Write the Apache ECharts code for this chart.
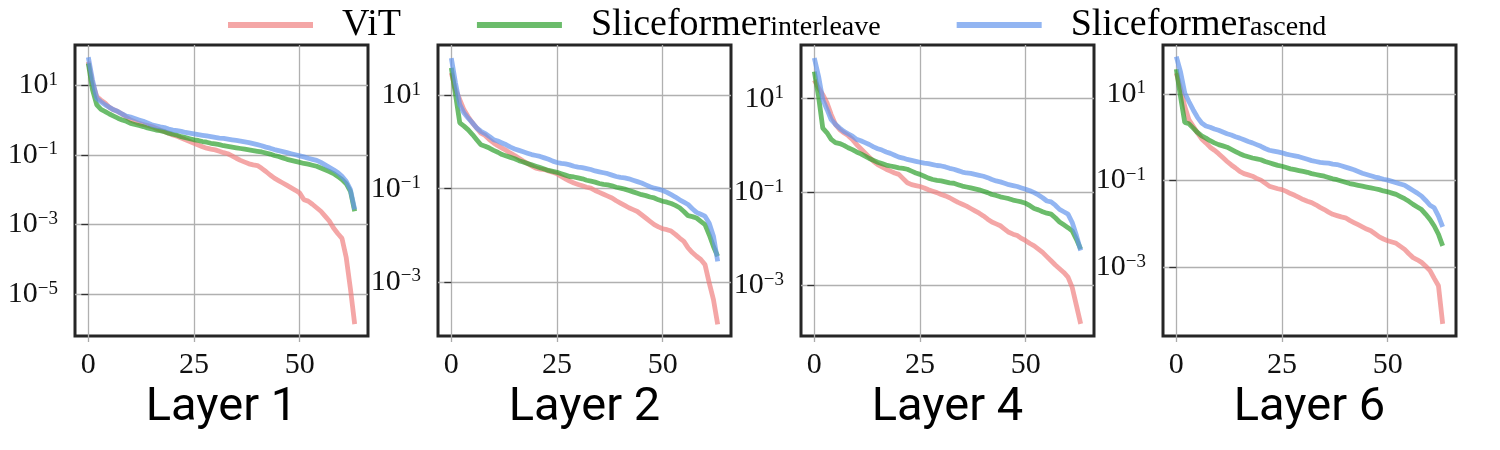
<!DOCTYPE html>
<html lang="en">
<head>
<meta charset="UTF-8">
<title>Singular value spectra per layer</title>
<script src="https://cdn.jsdelivr.net/npm/echarts@6.0.0/dist/echarts.min.js"></script>
<style>
    html, body { margin: 0; padding: 0; background: #fff; }
    #main { width: 1500px; height: 450px; }
</style>
</head>
<body>
<div id="main"></div>
<script>
// panel titles and ticks
var layers = ['Layer 1', 'Layer 2', 'Layer 4', 'Layer 6'];
var seriesNames = ['ViT', 'Sliceformer_interleave', 'Sliceformer_ascend'];
var xTicks = [0, 25, 50];
var yTicks = [1e-5, 1e-3, 1e-1, 1e1];
// log10 of the y axis ends, per panel
var yRangeExp = [[-6.2, 2.15], [-4.16, 2.08], [-4.08, 2.15], [-4.59, 2.13]];

// values, stored as log10 (index 0..63)
var vitExp1 = [
    1.67, 1.05, 0.67, 0.57, 0.48, 0.36, 0.29, 0.24,
    0.17, 0.08, 0.00, -0.05, -0.10, -0.13, -0.16, -0.19,
    -0.24, -0.29, -0.33, -0.38, -0.43, -0.47, -0.52, -0.57,
    -0.62, -0.67, -0.72, -0.77, -0.81, -0.84, -0.86, -0.90,
    -0.94, -0.97, -1.03, -1.10, -1.16, -1.21, -1.26, -1.29,
    -1.31, -1.39, -1.48, -1.58, -1.67, -1.74, -1.81, -1.88,
    -1.95, -2.02, -2.10, -2.29, -2.33, -2.42, -2.52, -2.62,
    -2.76, -2.90, -3.10, -3.26, -3.40, -3.95, -4.85, -5.86];
var interleaveExp1 = [
    1.62, 0.86, 0.43, 0.30, 0.24, 0.17, 0.11, 0.05,
    0.00, -0.04, -0.10, -0.13, -0.16, -0.19, -0.23, -0.26,
    -0.29, -0.31, -0.34, -0.38, -0.41, -0.44, -0.48, -0.51,
    -0.54, -0.57, -0.59, -0.62, -0.64, -0.67, -0.69, -0.71,
    -0.74, -0.76, -0.78, -0.80, -0.82, -0.84, -0.86, -0.88,
    -0.90, -0.92, -0.95, -0.98, -1.02, -1.05, -1.09, -1.13,
    -1.16, -1.19, -1.22, -1.25, -1.27, -1.30, -1.33, -1.38,
    -1.43, -1.48, -1.54, -1.62, -1.71, -1.83, -2.05, -2.62];
var ascendExp1 = [
    1.80, 1.14, 0.62, 0.52, 0.43, 0.36, 0.29, 0.24,
    0.17, 0.11, 0.08, 0.04, 0.00, -0.04, -0.09, -0.14,
    -0.17, -0.20, -0.22, -0.26, -0.29, -0.31, -0.33, -0.36,
    -0.38, -0.40, -0.42, -0.44, -0.46, -0.48, -0.50, -0.52,
    -0.53, -0.55, -0.57, -0.59, -0.61, -0.63, -0.65, -0.68,
    -0.71, -0.74, -0.78, -0.81, -0.85, -0.88, -0.91, -0.94,
    -0.97, -1.00, -1.03, -1.06, -1.10, -1.13, -1.16, -1.22,
    -1.29, -1.36, -1.43, -1.51, -1.62, -1.76, -2.00, -2.57];

var vitExp2 = [
    1.48, 1.12, 0.91, 0.69, 0.54, 0.41, 0.30, 0.19,
    0.14, 0.05, -0.02, -0.08, -0.13, -0.18, -0.24, -0.29,
    -0.35, -0.41, -0.46, -0.51, -0.56, -0.58, -0.59, -0.62,
    -0.65, -0.68, -0.74, -0.79, -0.84, -0.88, -0.91, -0.94,
    -0.97, -0.99, -1.04, -1.08, -1.12, -1.16, -1.20, -1.26,
    -1.31, -1.36, -1.41, -1.45, -1.49, -1.56, -1.63, -1.70,
    -1.77, -1.82, -1.86, -1.88, -1.91, -1.98, -2.06, -2.13,
    -2.27, -2.37, -2.45, -2.52, -2.63, -3.02, -3.38, -3.91];
var interleaveExp2 = [
    1.59, 1.01, 0.41, 0.34, 0.26, 0.16, 0.05, -0.06,
    -0.09, -0.13, -0.18, -0.22, -0.27, -0.30, -0.33, -0.36,
    -0.40, -0.43, -0.46, -0.49, -0.52, -0.55, -0.58, -0.61,
    -0.63, -0.65, -0.68, -0.71, -0.74, -0.75, -0.77, -0.79,
    -0.82, -0.84, -0.86, -0.89, -0.91, -0.92, -0.94, -0.97,
    -0.99, -1.01, -1.04, -1.07, -1.10, -1.13, -1.15, -1.18,
    -1.20, -1.24, -1.27, -1.29, -1.32, -1.36, -1.41, -1.49,
    -1.58, -1.60, -1.63, -1.70, -1.77, -1.99, -2.24, -2.45];
var ascendExp2 = [
    1.80, 1.26, 0.80, 0.62, 0.51, 0.41, 0.30, 0.23,
    0.18, 0.12, 0.05, 0.02, -0.02, -0.06, -0.11, -0.15,
    -0.18, -0.21, -0.24, -0.27, -0.29, -0.31, -0.34, -0.37,
    -0.41, -0.44, -0.46, -0.47, -0.49, -0.52, -0.54, -0.55,
    -0.57, -0.59, -0.62, -0.64, -0.66, -0.68, -0.71, -0.74,
    -0.76, -0.77, -0.79, -0.82, -0.85, -0.88, -0.92, -0.96,
    -0.99, -1.01, -1.04, -1.08, -1.13, -1.18, -1.24, -1.29,
    -1.34, -1.43, -1.51, -1.55, -1.59, -1.74, -2.02, -2.56];

var vitExp4 = [
    1.40, 1.23, 1.09, 0.91, 0.66, 0.45, 0.34, 0.27,
    0.21, 0.13, 0.02, -0.07, -0.16, -0.25, -0.34, -0.41,
    -0.46, -0.51, -0.55, -0.59, -0.62, -0.71, -0.80, -0.84,
    -0.86, -0.88, -0.91, -0.95, -0.98, -1.01, -1.05, -1.08,
    -1.12, -1.17, -1.22, -1.26, -1.30, -1.35, -1.40, -1.45,
    -1.51, -1.58, -1.64, -1.68, -1.72, -1.79, -1.86, -1.90,
    -1.93, -1.99, -2.04, -2.10, -2.15, -2.22, -2.29, -2.38,
    -2.47, -2.56, -2.64, -2.72, -2.82, -3.04, -3.43, -3.82];
var interleaveExp4 = [
    1.58, 1.05, 0.37, 0.27, 0.13, 0.06, 0.04, 0.00,
    -0.05, -0.09, -0.14, -0.18, -0.23, -0.28, -0.32, -0.36,
    -0.39, -0.42, -0.44, -0.46, -0.48, -0.49, -0.51, -0.55,
    -0.59, -0.62, -0.66, -0.70, -0.73, -0.75, -0.76, -0.78,
    -0.80, -0.81, -0.84, -0.87, -0.89, -0.91, -0.93, -0.95,
    -0.98, -1.01, -1.05, -1.07, -1.10, -1.12, -1.14, -1.17,
    -1.19, -1.21, -1.24, -1.29, -1.35, -1.38, -1.42, -1.45,
    -1.47, -1.55, -1.64, -1.70, -1.76, -1.83, -2.01, -2.22];
var ascendExp4 = [
    1.87, 1.48, 0.98, 0.77, 0.55, 0.45, 0.37, 0.30,
    0.25, 0.20, 0.13, 0.10, 0.06, 0.02, -0.03, -0.07,
    -0.10, -0.14, -0.17, -0.21, -0.25, -0.27, -0.30, -0.32,
    -0.34, -0.36, -0.38, -0.39, -0.41, -0.43, -0.44, -0.46,
    -0.49, -0.51, -0.54, -0.57, -0.59, -0.60, -0.62, -0.64,
    -0.66, -0.69, -0.73, -0.76, -0.78, -0.81, -0.84, -0.86,
    -0.88, -0.91, -0.94, -0.97, -1.01, -1.06, -1.12, -1.19,
    -1.21, -1.28, -1.37, -1.42, -1.47, -1.65, -1.93, -2.25];

var vitExp6 = [
    1.48, 1.13, 0.71, 0.40, 0.25, 0.10, -0.04, -0.13,
    -0.23, -0.30, -0.38, -0.47, -0.56, -0.64, -0.71, -0.79,
    -0.84, -0.87, -0.90, -0.95, -0.99, -1.06, -1.13, -1.16,
    -1.19, -1.21, -1.25, -1.30, -1.34, -1.39, -1.44, -1.48,
    -1.51, -1.56, -1.62, -1.67, -1.73, -1.78, -1.81, -1.84,
    -1.86, -1.92, -1.97, -2.02, -2.07, -2.12, -2.16, -2.23,
    -2.30, -2.35, -2.39, -2.42, -2.45, -2.52, -2.59, -2.69,
    -2.78, -2.83, -2.89, -2.98, -3.08, -3.26, -3.43, -4.31];
var interleaveExp6 = [
    1.57, 0.94, 0.34, 0.31, 0.21, 0.11, 0.03, -0.02,
    -0.08, -0.13, -0.17, -0.20, -0.23, -0.28, -0.33, -0.38,
    -0.42, -0.45, -0.48, -0.50, -0.52, -0.56, -0.59, -0.62,
    -0.65, -0.67, -0.70, -0.73, -0.75, -0.77, -0.79, -0.81,
    -0.84, -0.86, -0.88, -0.90, -0.93, -0.96, -0.98, -1.01,
    -1.04, -1.07, -1.09, -1.11, -1.13, -1.15, -1.17, -1.19,
    -1.21, -1.24, -1.26, -1.29, -1.32, -1.37, -1.42, -1.48,
    -1.55, -1.61, -1.67, -1.78, -1.90, -2.05, -2.24, -2.51];
var ascendExp6 = [
    1.86, 1.51, 1.02, 0.82, 0.63, 0.46, 0.33, 0.26,
    0.23, 0.19, 0.16, 0.12, 0.08, 0.05, 0.01, -0.02,
    -0.06, -0.10, -0.13, -0.17, -0.21, -0.26, -0.30, -0.32,
    -0.34, -0.36, -0.39, -0.41, -0.43, -0.45, -0.48, -0.51,
    -0.54, -0.56, -0.58, -0.59, -0.60, -0.62, -0.63, -0.66,
    -0.69, -0.72, -0.75, -0.79, -0.83, -0.86, -0.89, -0.92,
    -0.94, -0.97, -0.99, -1.02, -1.05, -1.08, -1.11, -1.17,
    -1.23, -1.29, -1.36, -1.46, -1.57, -1.63, -1.82, -2.07];

var panelData = [
    [vitExp1, interleaveExp1, ascendExp1],
    [vitExp2, interleaveExp2, ascendExp2],
    [vitExp4, interleaveExp4, ascendExp4],
    [vitExp6, interleaveExp6, ascendExp6]
];

var myChart = echarts.init(document.getElementById('main'), null, { renderer: 'canvas' });

var serif = '"Liberation Serif", "DejaVu Serif", serif';
var sans = 'Roboto, "Liberation Sans", sans-serif';
var colors = ['rgba(240,128,128,0.7)', 'rgba(44,160,44,0.7)', 'rgba(100,149,237,0.7)'];
var gridLeft = [75, 438, 801, 1163];

function toPoints(exps) {
    var pts = [];
    for (var i = 0; i < exps.length; i++) {
        pts.push([i, Math.pow(10, exps[i])]);
    }
    return pts;
}

// 10^k with a raised exponent
function powLabel(v) {
    var e = Math.round(Math.log10(v));
    var s = e < 0 ? '\u2212' + (-e) : String(e);
    return '{b|10}{s|' + s + '}';
}

var grids = [], xAxes = [], yAxes = [], series = [];
for (var k = 0; k < 4; k++) {
    var yMin = Math.pow(10, yRangeExp[k][0]);
    var yMax = Math.pow(10, yRangeExp[k][1]);
    var yt = yTicks.filter(function (v) { return v >= yMin && v <= yMax; });

    grids.push({
        left: gridLeft[k], top: 45, width: 293, height: 291,
        show: true, borderColor: '#262626', borderWidth: 3,
        backgroundColor: 'rgba(0,0,0,0)',
        containLabel: false, outerBoundsMode: 'none'
    });
    xAxes.push({
        gridIndex: k, type: 'value', min: -3.15, max: 66.15,
        name: layers[k], nameLocation: 'middle', nameGap: 46,
        nameTextStyle: { fontFamily: sans, fontSize: 47, color: '#000' },
        axisLine: { show: false },
        axisTick: { show: true, length: 6, customValues: xTicks, lineStyle: { color: '#aaa', width: 1.3 } },
        axisLabel: { customValues: xTicks, margin: 14, fontFamily: serif, fontSize: 30, color: '#111' },
        splitLine: { show: true, lineStyle: { color: '#b0b0b0', width: 1.3 } }
    });
    yAxes.push({
        gridIndex: k, type: 'log', logBase: 10, min: yMin, max: yMax,
        axisLine: { show: false },
        axisTick: { show: true, length: 7, customValues: yt, lineStyle: { color: '#333', width: 1.3 } },
        axisLabel: {
            customValues: yt, margin: 17, formatter: powLabel,
            rich: {
                b: { fontFamily: serif, fontSize: 30, lineHeight: 30, verticalAlign: 'middle', color: '#111' },
                s: { fontFamily: serif, fontSize: 19, lineHeight: 20, verticalAlign: 'top', color: '#111' }
            }
        },
        splitLine: { show: true, lineStyle: { color: '#b0b0b0', width: 1.3 } },
        minorTick: { show: false }, minorSplitLine: { show: false }
    });
    for (var s = 0; s < 3; s++) {
        series.push({
            type: 'line', name: seriesNames[s],
            xAxisIndex: k, yAxisIndex: k,
            data: toPoints(panelData[k][s]),
            showSymbol: false, symbol: 'none',
            lineStyle: { width: 4.8, color: colors[s] },
            itemStyle: { color: colors[s] },
            emphasis: { disabled: true },
            z: 2 + s
        });
    }
}

var option = {
    animation: false,
    backgroundColor: '#fff',
    legend: {
        left: 223, top: 1,
        icon: 'rect', itemWidth: 85, itemHeight: 6, itemGap: 76,
        data: seriesNames,
        formatter: function (name) {
            var parts = name.split('_');
            if (parts.length === 1) return '{m|' + parts[0] + '}';
            return '{m|' + parts[0] + '}{u|' + parts[1] + '}';
        },
        textStyle: {
            rich: {
                m: { fontFamily: serif, fontSize: 38, lineHeight: 34, verticalAlign: 'middle', color: '#000', padding: [0, 0, 0, 24] },
                u: { fontFamily: serif, fontSize: 28, lineHeight: 16, verticalAlign: 'bottom', color: '#000' }
            }
        }
    },
    tooltip: { show: false },
    grid: grids,
    xAxis: xAxes,
    yAxis: yAxes,
    series: series
};

myChart.setOption(option);
</script>
</body>
</html>
